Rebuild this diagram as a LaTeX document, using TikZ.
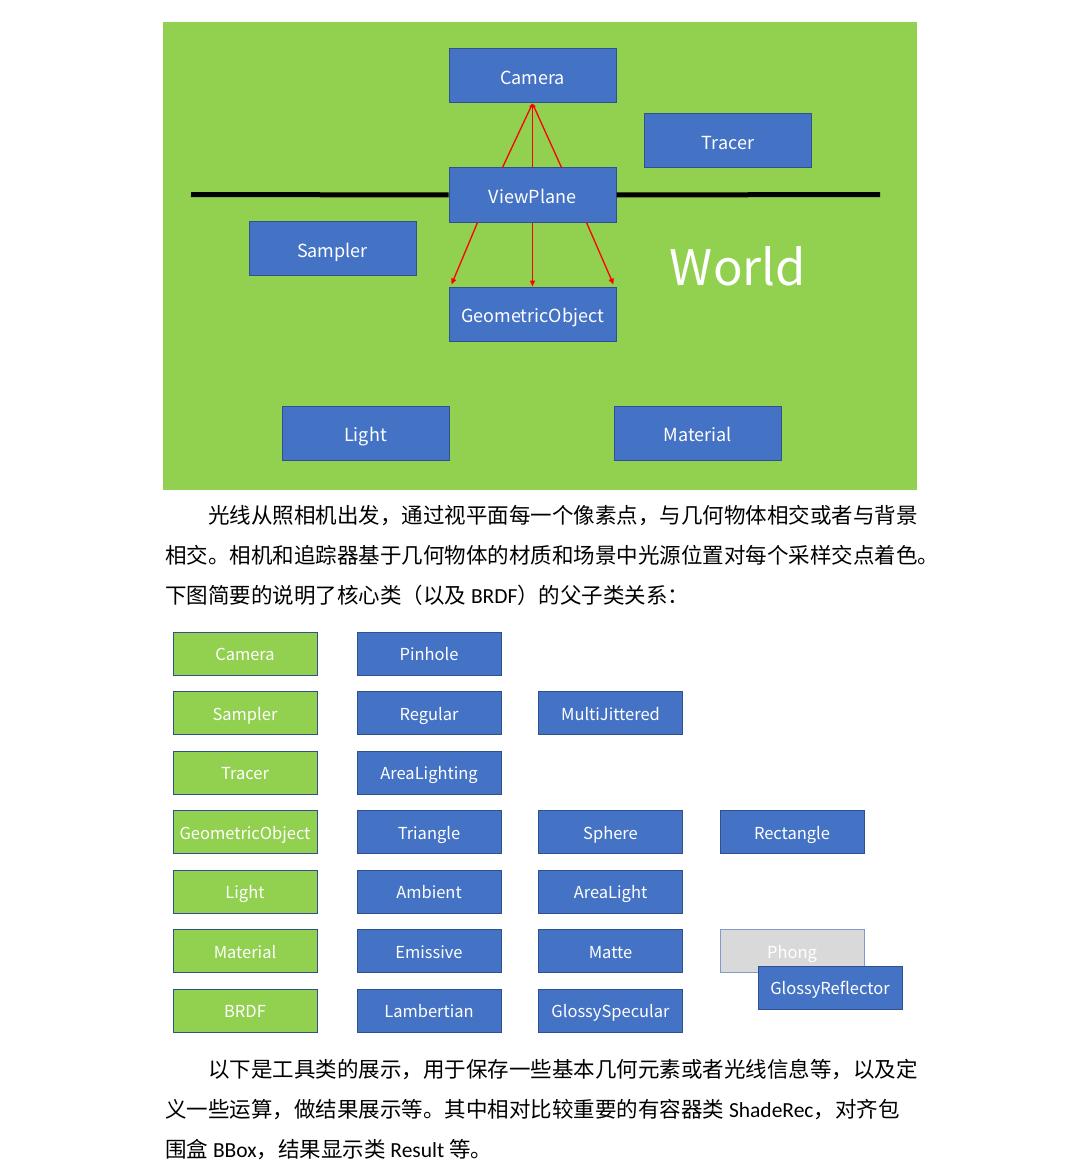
\documentclass[tikz,border=0pt]{standalone}
\usepackage{fontspec}
\setmainfont{Carlito}
\newfontfamily\cjk{Noto Sans CJK SC}
\usetikzlibrary{arrows.meta}

\definecolor{worldgreen}{HTML}{92D050}
\definecolor{boxblue}{HTML}{4472C4}
\definecolor{boxline}{HTML}{2F528F}
\definecolor{phonggray}{HTML}{D9D9D9}
\definecolor{phongline}{HTML}{7F9BCB}

\tikzset{
  classbox/.style={draw=boxline, fill=boxblue, text=white, line width=1pt,
    inner sep=0pt, minimum width=167pt, minimum height=54pt,
    text height=19pt, text depth=2pt,
    font=\cjk\fontsize{18}{18}\selectfont},
  subbox/.style={classbox, minimum width=144pt, minimum height=43pt,
    text height=16pt, text depth=2pt,
    font=\cjk\fontsize{16.5}{16.5}\selectfont},
  basebox/.style={subbox, fill=worldgreen},
  ray/.style={red, line width=1.3pt},
  paraline/.style={anchor=base west, inner sep=0pt,
    font=\cjk\fontsize{21.5}{21.5}\selectfont}
}

\begin{document}
\begin{tikzpicture}[x=1pt, y=-1pt]
    % Page and world background
    \fill[white] (0,0) rectangle (1075,1169);
    \useasboundingbox (0,0) rectangle (1075,1169);
    \fill[worldgreen] (163,22) rectangle (917,490);

    % The view plane line
    \coordinate (lineL) at (191,194.5);
    \coordinate (lineR) at (880,194.5);

    % Draw the scene classes
    \node[classbox] (camera) at (532.5,76) {Camera};
    \node[classbox] (tracer) at (728,141) {Tracer};
    \node[classbox] (viewplane) at (532.5,195) {ViewPlane};
    \node[classbox] (sampler) at (332.5,248.5) {Sampler};
    \node[classbox] (geometric) at (532.5,314) {GeometricObject};
    \node[classbox] (light) at (365.5,433) {Light};
    \node[classbox] (material) at (698,433) {Material};
    \node[text=white, inner sep=0pt, font=\cjk\fontsize{49}{49}\selectfont]
        (world) at (738,266) {World};

    \draw[line width=5pt] (lineL) -- (viewplane.west);
    \draw[line width=5pt] (viewplane.east) -- (lineR);

    % Draw the rays
    \draw[ray, -{Triangle[length=4pt,width=3pt]}] ([xshift=-30pt]viewplane.north) -- (camera.south);
    \draw[ray, -{Triangle[length=4pt,width=3pt]}] (viewplane.north) -- (camera.south);
    \draw[ray, -{Triangle[length=4pt,width=3pt]}] ([xshift=29pt]viewplane.north) -- (camera.south);
    \draw[ray, -{Triangle[length=6pt,width=5pt]}] ([xshift=-55pt]viewplane.south) -- ([xshift=-81pt,yshift=2pt]geometric.north);
    \draw[ray, -{Triangle[length=6pt,width=5pt]}] (viewplane.south) -- (geometric.north);
    \draw[ray, -{Triangle[length=6pt,width=5pt]}] ([xshift=54pt]viewplane.south) -- ([xshift=81pt,yshift=2pt]geometric.north);

    % First paragraph
    \node[paraline] (para1) at (208,523) {光线从照相机出发，通过视平面每一个像素点，与几何物体相交或者与背景};
    \node[paraline] (para2) at (165,563) {相交。相机和追踪器基于几何物体的材质和场景中光源位置对每个采样交点着色。};
    \node[paraline] (para3) at (165,603) {下图简要的说明了核心类（以及 {\rmfamily BRDF}）的父子类关系：};

    % Draw the base classes
    \foreach \name [count=\i] in {Camera,Sampler,Tracer,GeometricObject,Light,Material,BRDF}
        \node[basebox] (base\i) at (245,594+59.5*\i) {\name};

    % Draw the sub classes
    \node[subbox] (pinhole) at (429,653.5) {Pinhole};
    \node[subbox] (regular) at (429,713) {Regular};
    \node[subbox] (multijittered) at (610.5,713) {MultiJittered};
    \node[subbox] (arealighting) at (429,772.5) {AreaLighting};
    \node[subbox] (triangle) at (429,832) {Triangle};
    \node[subbox] (sphere) at (610.5,832) {Sphere};
    \node[subbox] (rectangle) at (792,832) {Rectangle};
    \node[subbox] (ambient) at (429,891.5) {Ambient};
    \node[subbox] (arealight) at (610.5,891.5) {AreaLight};
    \node[subbox] (emissive) at (429,951) {Emissive};
    \node[subbox] (matte) at (610.5,951) {Matte};
    \node[subbox, fill=phonggray, draw=phongline] (phong) at (792,951) {Phong};
    \node[subbox] (glossyreflector) at (830,987.5) {GlossyReflector};
    \node[subbox] (lambertian) at (429,1010.5) {Lambertian};
    \node[subbox] (glossyspecular) at (610.5,1010.5) {GlossySpecular};

    % Second paragraph
    \node[paraline] (para4) at (208,1077) {以下是工具类的展示，用于保存一些基本几何元素或者光线信息等，以及定};
    \node[paraline] (para5) at (165,1117) {义一些运算，做结果展示等。其中相对比较重要的有容器类 {\rmfamily ShadeRec}，对齐包};
    \node[paraline] (para6) at (165,1157) {围盒 {\rmfamily BBox}，结果显示类 {\rmfamily Result} 等。};

\end{tikzpicture}
\end{document}
